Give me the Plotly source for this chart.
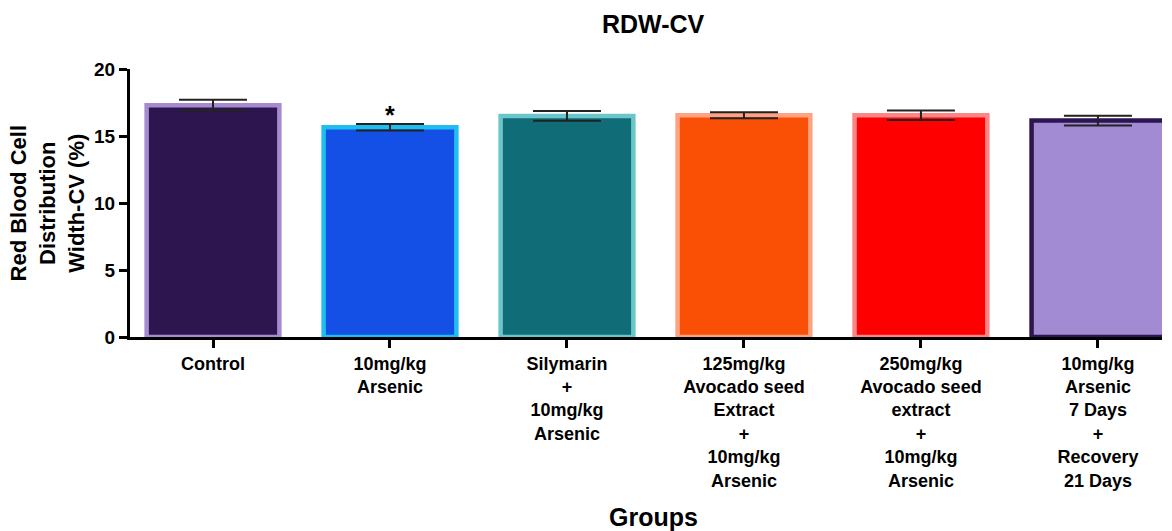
import plotly.graph_objects as go

# Group labels (multi-line as printed under the axis)
groups = [
    "Control",
    "10mg/kg<br>Arsenic",
    "Silymarin<br>+<br>10mg/kg<br>Arsenic",
    "125mg/kg<br>Avocado seed<br>Extract<br>+<br>10mg/kg<br>Arsenic",
    "250mg/kg<br>Avocado seed<br>extract<br>+<br>10mg/kg<br>Arsenic",
    "10mg/kg<br>Arsenic<br>7 Days<br>+<br>Recovery<br>21 Days",
]
# Mean RDW-CV (%) and SEM per group
rdw_mean = [17.3, 15.65, 16.5, 16.55, 16.55, 16.15]
rdw_sem = [0.40, 0.24, 0.36, 0.22, 0.36, 0.36]
fill_colors = ["#2D1650", "#1450E6", "#106D78", "#FA5005", "#FF0000", "#A38BD3"]
edge_colors = ["#A68BD1", "#1EBEF0", "#6AC6C8", "#FFA282", "#FF8585", "#2D1650"]
y_ticks = [0, 5, 10, 15, 20]
sig_marks = ["", "*", "", "", "", ""]

FONT = "Liberation Sans, Arial, sans-serif"
xpos = list(range(len(groups)))

fig = go.Figure()
fig.add_trace(go.Bar(
    x=xpos,
    y=rdw_mean,
    width=0.75,
    marker=dict(color=fill_colors, line=dict(color=edge_colors, width=4.5)),
    error_y=dict(type="data", array=rdw_sem, visible=True,
                 color="#222222", thickness=2, width=34),
    showlegend=False,
))

# significance marks above the error bars
for i, mark in enumerate(sig_marks):
    if mark:
        fig.add_annotation(x=xpos[i], y=rdw_mean[i] + rdw_sem[i] + 0.7,
                           xref="x", yref="y", text="<b>%s</b>" % mark,
                           showarrow=False, yanchor="middle",
                           font=dict(family=FONT, size=25, color="#000"))

fig.add_annotation(x=0.507, y=1.168, xref="paper", yref="paper",
                   text="<b>RDW-CV</b>", showarrow=False,
                   xanchor="center", yanchor="middle",
                   font=dict(family=FONT, size=25, color="#000"))
fig.add_annotation(x=0.507, y=-0.672, xref="paper", yref="paper",
                   text="<b>Groups</b>", showarrow=False,
                   xanchor="center", yanchor="middle",
                   font=dict(family=FONT, size=25, color="#000"))
fig.add_annotation(x=-0.080, y=0.5, xref="paper", yref="paper",
                   text="<b>Red Blood Cell<br>Distribution<br>Width-CV (%)</b>",
                   textangle=-90, showarrow=False,
                   xanchor="center", yanchor="middle",
                   font=dict(family=FONT, size=22, color="#000"))

fig.update_layout(
    width=1172, height=531,
    margin=dict(l=130, r=10, t=69, b=194),
    paper_bgcolor="white", plot_bgcolor="white",
    font=dict(family=FONT, color="#000"),
)
fig.update_xaxes(
    range=[-0.469, 5.362],
    tickmode="array", tickvals=xpos,
    ticktext=["<b>%s</b>" % g for g in groups],
    tickfont=dict(family=FONT, size=18, color="#000"),
    showline=True, linecolor="#000", linewidth=3,
    ticks="outside", ticklen=8, tickwidth=3, tickcolor="#000",
    showgrid=False, zeroline=False,
)
fig.update_yaxes(
    range=[0, 20],
    tickmode="array", tickvals=y_ticks,
    ticktext=["<b>%d</b>" % v for v in y_ticks],
    tickfont=dict(family=FONT, size=19, color="#000"),
    showline=True, linecolor="#000", linewidth=3,
    ticks="outside", ticklen=8, tickwidth=3, tickcolor="#000",
    showgrid=False, zeroline=False,
)

fig.write_html("out.html")
